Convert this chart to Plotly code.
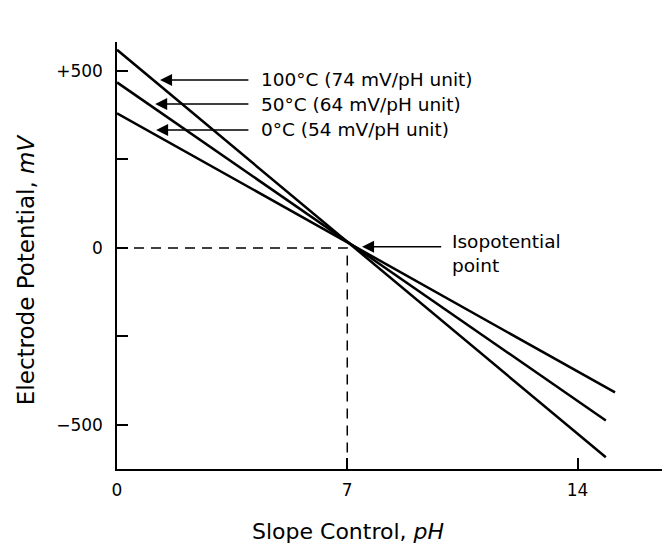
import plotly.graph_objects as go

# Data
series_names = ["0°C", "50°C", "100°C"]
ph_start = [0, 0, 0]
ph_end = [15.14, 14.86, 14.86]
mv_start = [380, 467, 559]
mv_end = [-408, -487, -591]

label_texts = ["100°C (74 mV/pH unit)", "50°C (64 mV/pH unit)", "0°C (54 mV/pH unit)"]
label_y = [474, 406, 333]
arrow_tip_x = [1.31, 1.16, 1.19]
arrow_tail_x = 4.04
label_x = 4.33

iso_x, iso_y = 7.0, 0
iso_tip = (7.45, 3)
iso_tail_x = 9.9

x_tickvals = [0, 7, 14]
x_ticktext = ["0", "7", "14"]
y_tickvals = [-500, -250, 0, 250, 500]
y_ticktext = ["\u2212500", "", "0", "", "+500"]

FONT = "DejaVu Sans"

fig = go.Figure()

for name, x0, x1, y0, y1 in zip(series_names, ph_start, ph_end, mv_start, mv_end):
    fig.add_trace(go.Scatter(x=[x0, x1], y=[y0, y1], mode="lines", name=name,
                             line=dict(color="black", width=2.5), showlegend=False,
                             hoverinfo="skip"))

# dashed guide lines to isopotential point
fig.add_trace(go.Scatter(x=[0, iso_x, iso_x], y=[iso_y, iso_y, -624], mode="lines",
                         line=dict(color="black", width=1.5, dash="10px,7px"),
                         showlegend=False, hoverinfo="skip"))

annotations = []
for txt, yv, tx in zip(label_texts, label_y, arrow_tip_x):
    annotations.append(dict(x=tx, y=yv, ax=arrow_tail_x, ay=yv, axref="x", ayref="y",
                            xref="x", yref="y", text="", showarrow=True,
                            arrowhead=2, arrowsize=1.6, arrowwidth=1.5, arrowcolor="black"))
    annotations.append(dict(x=label_x, y=yv, xref="x", yref="y", text=txt, showarrow=False,
                            xanchor="left", yanchor="middle",
                            font=dict(family=FONT, size=18.5, color="black")))

annotations.append(dict(x=iso_tip[0], y=iso_tip[1], ax=iso_tail_x, ay=iso_tip[1],
                        axref="x", ayref="y", xref="x", yref="y", text="", showarrow=True,
                        arrowhead=2, arrowsize=1.6, arrowwidth=1.5, arrowcolor="black"))
annotations.append(dict(x=10.12, y=-17, xref="x", yref="y", text="Isopotential<br>point",
                        showarrow=False, xanchor="left", yanchor="middle", align="left",
                        font=dict(family=FONT, size=18.5, color="black")))

# axis titles
annotations.append(dict(x=0, y=0.468, xref="paper", yref="paper", xshift=-91,
                        text="Electrode Potential, <i>mV</i>", textangle=-90,
                        showarrow=False, xanchor="center", yanchor="middle",
                        font=dict(family=FONT, size=23, color="black")))
annotations.append(dict(x=0.42, y=0, xref="paper", yref="paper", yshift=-62,
                        text="Slope Control, <i>pH</i>",
                        showarrow=False, xanchor="center", yanchor="middle",
                        font=dict(family=FONT, size=22, color="black")))

fig.update_layout(
    width=662, height=538,
    margin=dict(l=109, r=2, t=34, b=77),
    paper_bgcolor="white", plot_bgcolor="white",
    font=dict(family=FONT, size=17, color="black"),
    annotations=annotations,
    xaxis=dict(range=[0, 16.75], tickvals=x_tickvals, ticktext=x_ticktext,
               ticks="inside", ticklen=11, tickwidth=1.5, tickcolor="black",
               showline=True, linecolor="black", linewidth=1.5, showgrid=False,
               zeroline=False, ticklabelstandoff=5),
    yaxis=dict(range=[-624, 581], tickvals=y_tickvals, ticktext=y_ticktext,
               ticks="inside", ticklen=11, tickwidth=1.5, tickcolor="black",
               showline=True, linecolor="black", linewidth=1.5, showgrid=False,
               zeroline=False, ticklabelstandoff=9),
)

fig.write_html("out.html")
